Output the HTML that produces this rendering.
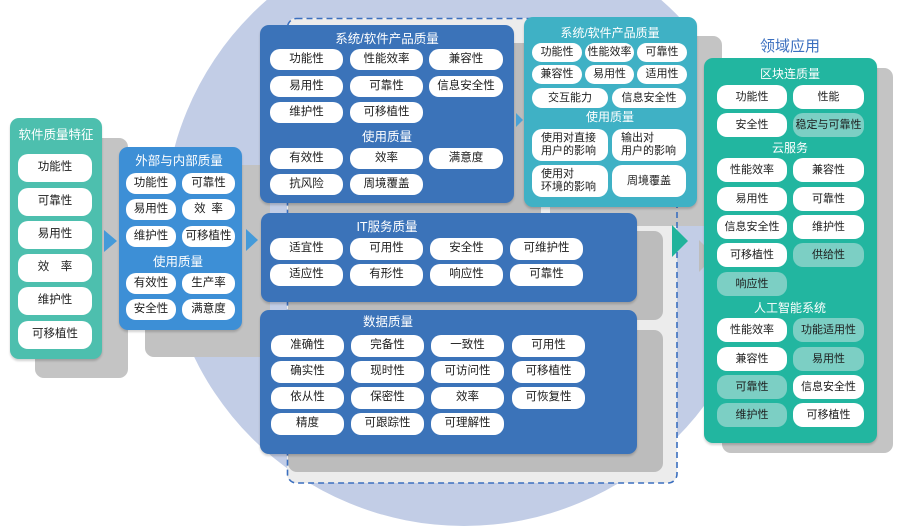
<!DOCTYPE html>
<html><head><meta charset="utf-8">
<style>
*{margin:0;padding:0;box-sizing:border-box}
body{width:907px;height:493px;position:relative;overflow:hidden;background:#fff;font-family:"Liberation Sans","Noto Sans CJK SC",sans-serif}
.a{position:absolute}
.p{position:absolute;background:#fff;border-radius:10px;color:#1c1c1c;font-size:11.5px;display:flex;align-items:center;justify-content:center;white-space:nowrap;line-height:1}
.l{background:#7ccfc4}
.two{justify-content:flex-start;padding-left:9px;line-height:13px;font-size:11px}
.t{position:absolute;color:#fff;font-size:12.5px;white-space:nowrap;transform:translateX(-50%);line-height:1}
.sh{position:absolute;background:#bcbcbc;border-radius:9px}
.pan{position:absolute;border-radius:9px;box-shadow:0 2px 2px rgba(0,0,0,.18)}
.tri{position:absolute;width:0;height:0;border-style:solid;border-color:transparent}
</style></head><body>

<!-- watermark circle -->
<div class="a" style="left:164px;top:-74px;width:600px;height:600px;border-radius:50%;background:#c2cde6"></div>

<!-- dashed container fill -->
<div class="a" style="left:287px;top:18px;width:390px;height:465px;border-radius:9px;background:#ececec"></div>

<!-- shadows -->
<div class="sh" style="left:35px;top:138px;width:93px;height:240px;background:#c4c4c4"></div>
<div class="sh" style="left:145px;top:165px;width:125px;height:192px;background:#c2c2c2"></div>
<div class="sh" style="left:288px;top:43px;width:253px;height:178px"></div>
<div class="sh" style="left:288px;top:231px;width:375px;height:89px"></div>
<div class="sh" style="left:288px;top:330px;width:375px;height:142px"></div>
<div class="sh" style="left:550px;top:36px;width:172px;height:190px;background:#c4c4c4"></div>
<div class="sh" style="left:722px;top:68px;width:171px;height:385px;background:#c4c4c4"></div>
<div class="tri" style="left:699px;top:240px;border-width:16px 0 16px 16px;border-left-color:#bdbdbd"></div>

<!-- dashed border -->
<svg class="a" style="left:0;top:0" width="907" height="493">
<rect x="287.5" y="18.5" width="389.5" height="464.5" rx="9" fill="none" stroke="#3b6fbf" stroke-width="1.6" stroke-dasharray="6 4"/>
</svg>

<!-- Left panel -->
<div class="pan" style="left:10px;top:118px;width:92px;height:241px;background:#4dbfae"></div>
<div class="t" style="left:56px;top:129px">软件质量特征</div>
<div class="p" style="left:18px;top:154px;width:74px;height:28px">功能性</div>
<div class="p" style="left:18px;top:188px;width:74px;height:28px">可靠性</div>
<div class="p" style="left:18px;top:221px;width:74px;height:28px">易用性</div>
<div class="p" style="left:18px;top:254px;width:74px;height:28px">效&emsp;率</div>
<div class="p" style="left:18px;top:287px;width:74px;height:28px">维护性</div>
<div class="p" style="left:18px;top:321px;width:74px;height:28px">可移植性</div>

<div class="tri" style="left:104px;top:230px;border-width:11px 0 11px 13px;border-left-color:#449ad9"></div>

<!-- Box 2 -->
<div class="pan" style="left:119px;top:147px;width:123px;height:183px;background:#3d8fd6"></div>
<div class="t" style="left:179px;top:155px">外部与内部质量</div>
<div class="p" style="left:126px;top:173px;width:50px;height:21px">功能性</div>
<div class="p" style="left:182px;top:173px;width:53px;height:21px">可靠性</div>
<div class="p" style="left:126px;top:199px;width:50px;height:21px">易用性</div>
<div class="p" style="left:182px;top:199px;width:53px;height:21px">效&ensp;率</div>
<div class="p" style="left:126px;top:226px;width:50px;height:21px">维护性</div>
<div class="p" style="left:182px;top:226px;width:53px;height:21px">可移植性</div>
<div class="t" style="left:178px;top:256px">使用质量</div>
<div class="p" style="left:126px;top:273px;width:50px;height:21px">有效性</div>
<div class="p" style="left:182px;top:273px;width:53px;height:21px">生产率</div>
<div class="p" style="left:126px;top:299px;width:50px;height:21px">安全性</div>
<div class="p" style="left:182px;top:299px;width:53px;height:21px">满意度</div>

<div class="tri" style="left:246px;top:229px;border-width:11px 0 11px 12px;border-left-color:#449ad9"></div>

<!-- Big blue: system/software product quality -->
<div class="pan" style="left:260px;top:25px;width:254px;height:178px;background:#3b73b9"></div>
<div class="t" style="left:387px;top:33px">系统/软件产品质量</div>
<div class="p" style="left:270px;top:49px;width:73px;height:21px">功能性</div>
<div class="p" style="left:350px;top:49px;width:73px;height:21px">性能效率</div>
<div class="p" style="left:429px;top:49px;width:74px;height:21px">兼容性</div>
<div class="p" style="left:270px;top:76px;width:73px;height:21px">易用性</div>
<div class="p" style="left:350px;top:76px;width:73px;height:21px">可靠性</div>
<div class="p" style="left:429px;top:76px;width:74px;height:21px">信息安全性</div>
<div class="p" style="left:270px;top:102px;width:73px;height:21px">维护性</div>
<div class="p" style="left:350px;top:102px;width:73px;height:21px">可移植性</div>
<div class="t" style="left:387px;top:131px">使用质量</div>
<div class="p" style="left:270px;top:148px;width:73px;height:21px">有效性</div>
<div class="p" style="left:350px;top:148px;width:73px;height:21px">效率</div>
<div class="p" style="left:429px;top:148px;width:74px;height:21px">满意度</div>
<div class="p" style="left:270px;top:174px;width:73px;height:21px">抗风险</div>
<div class="p" style="left:350px;top:174px;width:73px;height:21px">周境覆盖</div>

<!-- IT service -->
<div class="pan" style="left:261px;top:213px;width:376px;height:89px;background:#3b73b9"></div>
<div class="t" style="left:387px;top:221px">IT服务质量</div>
<div class="p" style="left:270px;top:238px;width:73px;height:22px">适宜性</div>
<div class="p" style="left:350px;top:238px;width:73px;height:22px">可用性</div>
<div class="p" style="left:430px;top:238px;width:73px;height:22px">安全性</div>
<div class="p" style="left:510px;top:238px;width:73px;height:22px">可维护性</div>
<div class="p" style="left:270px;top:264px;width:73px;height:22px">适应性</div>
<div class="p" style="left:350px;top:264px;width:73px;height:22px">有形性</div>
<div class="p" style="left:430px;top:264px;width:73px;height:22px">响应性</div>
<div class="p" style="left:510px;top:264px;width:73px;height:22px">可靠性</div>

<!-- Data quality -->
<div class="pan" style="left:260px;top:310px;width:377px;height:144px;background:#3b73b9"></div>
<div class="t" style="left:388px;top:316px">数据质量</div>
<div class="p" style="left:271px;top:335px;width:73px;height:22px">准确性</div>
<div class="p" style="left:351px;top:335px;width:73px;height:22px">完备性</div>
<div class="p" style="left:431px;top:335px;width:73px;height:22px">一致性</div>
<div class="p" style="left:512px;top:335px;width:73px;height:22px">可用性</div>
<div class="p" style="left:271px;top:361px;width:73px;height:22px">确实性</div>
<div class="p" style="left:351px;top:361px;width:73px;height:22px">现时性</div>
<div class="p" style="left:431px;top:361px;width:73px;height:22px">可访问性</div>
<div class="p" style="left:512px;top:361px;width:73px;height:22px">可移植性</div>
<div class="p" style="left:271px;top:387px;width:73px;height:22px">依从性</div>
<div class="p" style="left:351px;top:387px;width:73px;height:22px">保密性</div>
<div class="p" style="left:431px;top:387px;width:73px;height:22px">效率</div>
<div class="p" style="left:512px;top:387px;width:73px;height:22px">可恢复性</div>
<div class="p" style="left:271px;top:413px;width:73px;height:22px">精度</div>
<div class="p" style="left:351px;top:413px;width:73px;height:22px">可跟踪性</div>
<div class="p" style="left:431px;top:413px;width:73px;height:22px">可理解性</div>

<div class="tri" style="left:516px;top:113px;border-width:7px 0 7px 7px;border-left-color:#4aa3d6"></div>

<!-- Teal box -->
<div class="pan" style="left:524px;top:17px;width:173px;height:190px;background:#3fb1c5"></div>
<div class="t" style="left:610px;top:27px;font-size:12px">系统/软件产品质量</div>
<div class="p" style="left:532px;top:43px;width:50px;height:19px;font-size:11px">功能性</div>
<div class="p" style="left:585px;top:43px;width:49px;height:19px;font-size:11px">性能效率</div>
<div class="p" style="left:637px;top:43px;width:50px;height:19px;font-size:11px">可靠性</div>
<div class="p" style="left:532px;top:65px;width:50px;height:19px;font-size:11px">兼容性</div>
<div class="p" style="left:585px;top:65px;width:49px;height:19px;font-size:11px">易用性</div>
<div class="p" style="left:637px;top:65px;width:50px;height:19px;font-size:11px">适用性</div>
<div class="p" style="left:532px;top:88px;width:76px;height:20px;font-size:11px">交互能力</div>
<div class="p" style="left:612px;top:88px;width:74px;height:20px;font-size:11px">信息安全性</div>
<div class="t" style="left:610px;top:111px;font-size:12px">使用质量</div>
<div class="p two" style="left:532px;top:129px;width:76px;height:32px">使用对直接<br>用户的影响</div>
<div class="p two" style="left:612px;top:129px;width:74px;height:32px">输出对<br>用户的影响</div>
<div class="p two" style="left:532px;top:165px;width:76px;height:32px">使用对<br>环境的影响</div>
<div class="p" style="left:612px;top:165px;width:74px;height:32px;font-size:11px">周境覆盖</div>

<div class="tri" style="left:672px;top:225px;border-width:16px 0 16px 16px;border-left-color:#20b39b"></div>

<!-- Domain application -->
<div class="t" style="left:790px;top:39px;color:#3b6fbf;font-size:15px">领域应用</div>
<div class="pan" style="left:704px;top:58px;width:173px;height:385px;background:#22b6a0"></div>
<div class="t" style="left:790px;top:68px;font-size:12px">区块连质量</div>
<div class="p" style="left:717px;top:85px;width:70px;height:24px;font-size:11px">功能性</div>
<div class="p" style="left:793px;top:85px;width:71px;height:24px;font-size:11px">性能</div>
<div class="p" style="left:717px;top:113px;width:70px;height:24px;font-size:11px">安全性</div>
<div class="p l" style="left:793px;top:113px;width:71px;height:24px;font-size:11px">稳定与可靠性</div>
<div class="t" style="left:790px;top:142px;font-size:12px">云服务</div>
<div class="p" style="left:717px;top:158px;width:70px;height:24px;font-size:11px">性能效率</div>
<div class="p" style="left:793px;top:158px;width:71px;height:24px;font-size:11px">兼容性</div>
<div class="p" style="left:717px;top:187px;width:70px;height:24px;font-size:11px">易用性</div>
<div class="p" style="left:793px;top:187px;width:71px;height:24px;font-size:11px">可靠性</div>
<div class="p" style="left:717px;top:215px;width:70px;height:24px;font-size:11px">信息安全性</div>
<div class="p" style="left:793px;top:215px;width:71px;height:24px;font-size:11px">维护性</div>
<div class="p" style="left:717px;top:243px;width:70px;height:24px;font-size:11px">可移植性</div>
<div class="p l" style="left:793px;top:243px;width:71px;height:24px;font-size:11px">供给性</div>
<div class="p l" style="left:717px;top:272px;width:70px;height:24px;font-size:11px">响应性</div>
<div class="t" style="left:790px;top:302px;font-size:12px">人工智能系统</div>
<div class="p" style="left:717px;top:318px;width:70px;height:24px;font-size:11px">性能效率</div>
<div class="p l" style="left:793px;top:318px;width:71px;height:24px;font-size:11px">功能适用性</div>
<div class="p" style="left:717px;top:347px;width:70px;height:24px;font-size:11px">兼容性</div>
<div class="p l" style="left:793px;top:347px;width:71px;height:24px;font-size:11px">易用性</div>
<div class="p l" style="left:717px;top:375px;width:70px;height:24px;font-size:11px">可靠性</div>
<div class="p" style="left:793px;top:375px;width:71px;height:24px;font-size:11px">信息安全性</div>
<div class="p l" style="left:717px;top:403px;width:70px;height:24px;font-size:11px">维护性</div>
<div class="p" style="left:793px;top:403px;width:71px;height:24px;font-size:11px">可移植性</div>

</body></html>
